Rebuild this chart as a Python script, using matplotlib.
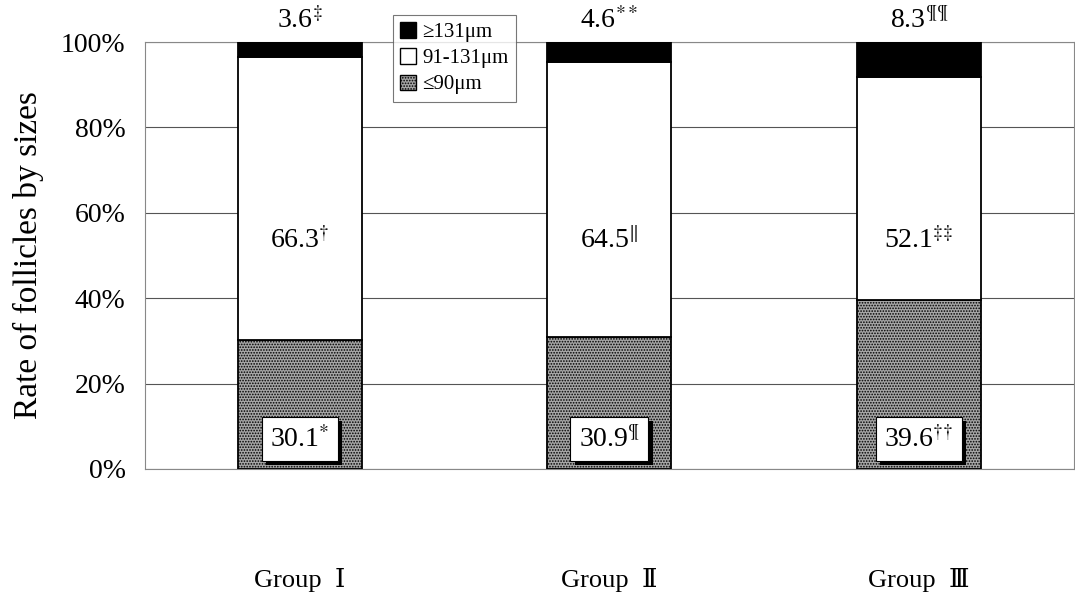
import matplotlib
matplotlib.use("Agg")
import matplotlib.pyplot as plt
import matplotlib.patheffects as pe
from matplotlib.patches import Patch
import numpy as np

groups = ["Group  \u2160", "Group  \u2161", "Group  \u2162"]
small = [30.1, 30.9, 39.6]       # <=90 um
medium = [66.3, 64.5, 52.1]      # 91-131 um
large = [3.6, 4.6, 8.3]          # >=131 um
small_marks = ["*", "\u00b6", "\u2020\u2020"]
medium_marks = ["\u2020", "\u2016", "\u2021\u2021"]
large_marks = ["\u2021", "**", "\u00b6\u00b6"]
legend_labels = ["\u2265131\u03bcm", "91-131\u03bcm", "\u226490\u03bcm"]
yticks = [0, 20, 40, 60, 80, 100]

plt.rcParams['font.family'] = ['Liberation Serif', 'DejaVu Serif']
plt.rcParams['mathtext.fontset'] = 'stix'
plt.rcParams['hatch.color'] = '#707070'
plt.rcParams['hatch.linewidth'] = 0.8

fig = plt.figure(figsize=(10.75, 6.09), dpi=100)
ax = fig.add_axes([0.1349, 0.2299, 0.864, 0.7011])

x = np.arange(len(groups))
w = 0.4
grey = '#a6a6a6'
ax.bar(x, small, w, color=grey, edgecolor='black', linewidth=1.3,
       hatch='......', zorder=3)
ax.bar(x, medium, w, bottom=small, color='white', edgecolor='black',
       linewidth=1.3, zorder=3)
bottom3 = np.array(small) + np.array(medium)
ax.bar(x, large, w, bottom=bottom3, color='black', edgecolor='black',
       linewidth=1.3, zorder=3)

ax.set_xlim(-0.5, 2.5)
ax.set_ylim(0, 100)
ax.set_yticks(yticks)
ax.set_yticklabels([f"{t}%" for t in yticks], fontsize=20)
ax.set_xticks(x)
ax.set_xticklabels(groups, fontsize=19,
                   family=['Liberation Serif', 'DejaVu Serif', 'Noto Sans CJK JP'])
ax.tick_params(axis='x', length=0, pad=71)
ax.tick_params(axis='y', length=0, pad=14)
ax.set_ylabel("Rate of follicles by sizes", fontsize=24, labelpad=12)

ax.yaxis.grid(True, color='#555555', linewidth=0.8, zorder=0)
ax.set_axisbelow(True)
for s in ax.spines.values():
    s.set_color('#888888')
    s.set_linewidth(0.8)

for i in range(len(groups)):
    ax.text(x[i], 100 + 1.8, f"{large[i]}$^{{{large_marks[i]}}}$",
            ha='center', va='bottom', fontsize=20, clip_on=False)
    ax.text(x[i], 53.5, f"{medium[i]}$^{{{medium_marks[i]}}}$",
            ha='center', va='center', fontsize=20, zorder=5)
    t = ax.text(x[i], 7, f"{small[i]}$^{{{small_marks[i]}}}$",
                ha='center', va='center', fontsize=20, zorder=5,
                bbox=dict(boxstyle='square,pad=0.3', facecolor='white',
                          edgecolor='black', linewidth=0.8))
    t.get_bbox_patch().set_path_effects([
        pe.SimplePatchShadow(offset=(3, -3), shadow_rgbFace='black', alpha=1),
        pe.Normal()])

handles = [Patch(facecolor='black', edgecolor='black'),
           Patch(facecolor='white', edgecolor='black'),
           Patch(facecolor=grey, edgecolor='black', hatch='......')]
leg = fig.legend(handles, legend_labels, loc='upper left',
                 bbox_to_anchor=(393 / 1075, 1 - 15 / 609),
                 fontsize=15, frameon=True, fancybox=False,
                 edgecolor='#555555', handlelength=0.75, handleheight=0.75,
                 handletextpad=0.3, borderpad=0.35, labelspacing=0.3,
                 borderaxespad=0)
leg.get_frame().set_linewidth(0.8)

fig.savefig("out.png", dpi=100)
